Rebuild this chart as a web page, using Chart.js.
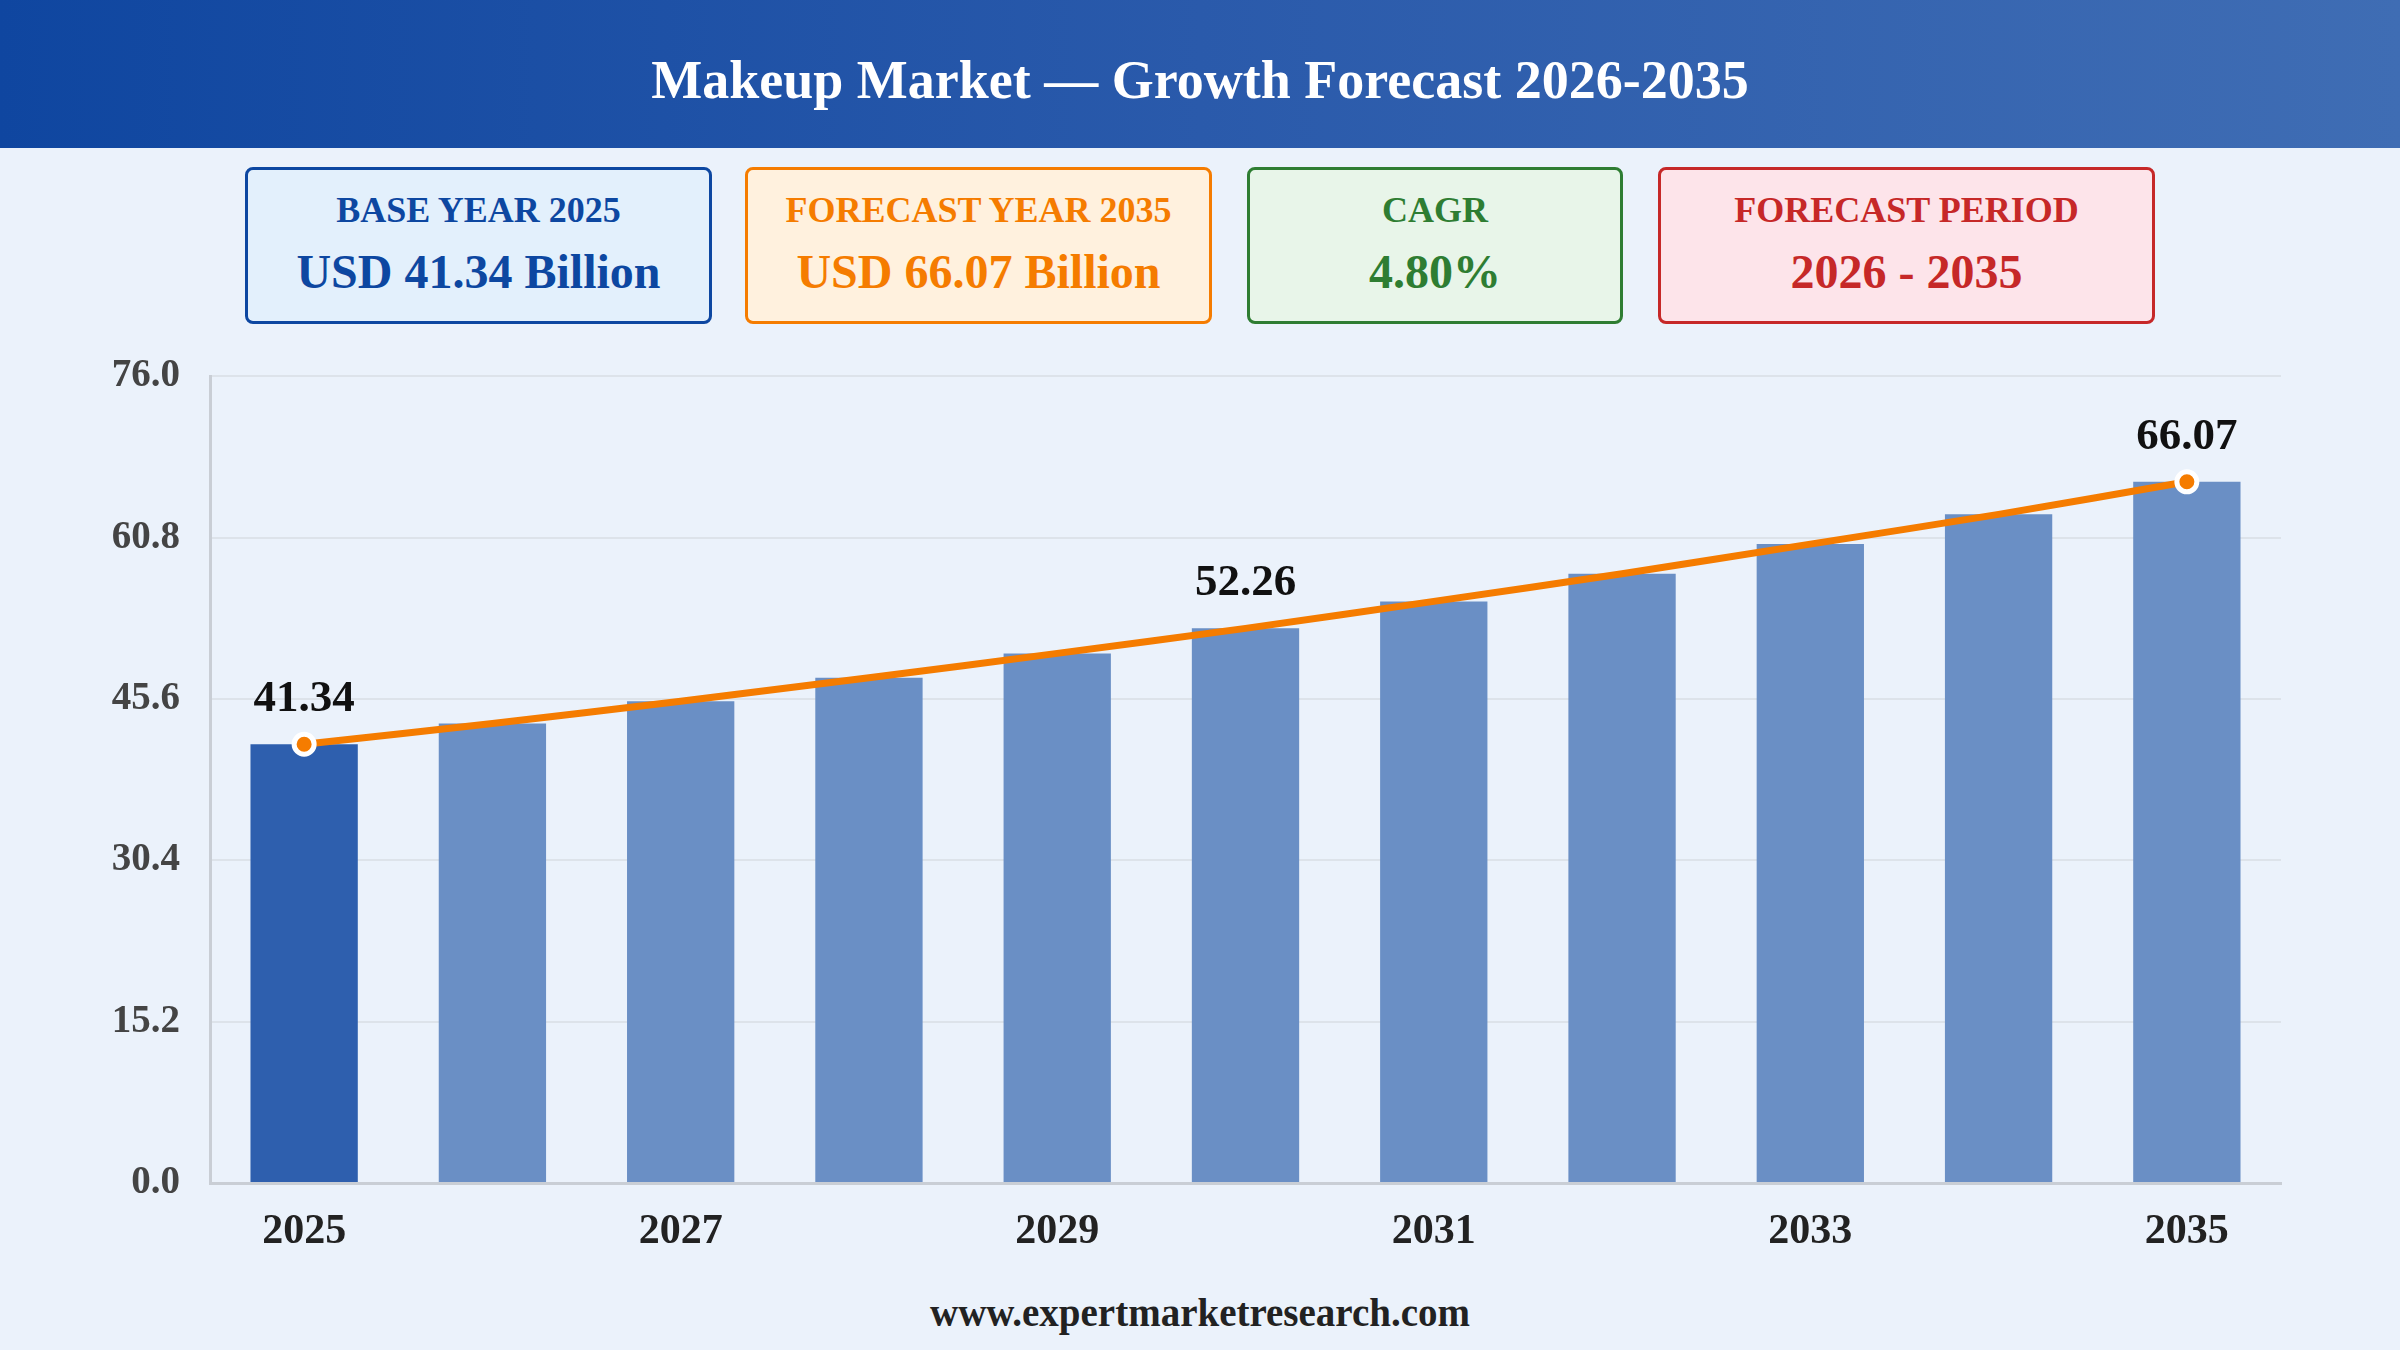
<!DOCTYPE html>
<html>
<head>
<meta charset="utf-8">
<script src="https://cdn.jsdelivr.net/npm/chart.js@4.4.1/dist/chart.umd.min.js"></script>
<style>
  html, body { margin: 0; padding: 0; }
  body {
    width: 2400px;
    height: 1350px;
    background: #ebf2fb;
    position: relative;
    overflow: hidden;
    font-family: "Liberation Serif", "DejaVu Serif", serif;
  }
  .header {
    position: absolute;
    left: 0; top: 0;
    width: 2400px; height: 148px;
    background: linear-gradient(90deg, #0f46a0 0%, #2a5aab 50%, #3f6db4 100%);
  }
  .header h1 {
    margin: 0;
    line-height: 160px;
    text-align: center;
    color: #fff;
    font-size: 54px;
    font-weight: bold;
  }
  .card {
    position: absolute;
    top: 167px;
    height: 151px;
    border: 3px solid;
    border-radius: 8px;
    text-align: center;
    font-weight: bold;
  }
  .card .lbl { font-size: 36px; line-height: 40px; margin-top: 20px; }
  .card .val { font-size: 48px; line-height: 54px; margin-top: 15px; }
  .c1 { left: 245px; width: 461px; border-color: #0d47a1; background: #e3f0fc; color: #0d47a1; }
  .c2 { left: 745px; width: 461px; border-color: #f57c00; background: #fff1de; color: #f57c00; }
  .c3 { left: 1247px; width: 370px; border-color: #2e7d32; background: #e8f5e9; color: #2e7d32; }
  .c4 { left: 1658px; width: 491px; border-color: #c62828; background: #fde4ea; color: #c62828; }
  .chart-box {
    position: absolute;
    left: 0; top: 323px;
    width: 2400px; height: 957px;
  }
  .footer {
    position: absolute;
    left: 0; top: 1290px;
    width: 2400px;
    text-align: center;
    font-size: 39px;
    font-weight: bold;
    color: #222;
  }
</style>
</head>
<body>
<div class="header"><h1>Makeup Market — Growth Forecast 2026-2035</h1></div>

<div class="card c1"><div class="lbl">BASE YEAR 2025</div><div class="val">USD 41.34 Billion</div></div>
<div class="card c2"><div class="lbl">FORECAST YEAR 2035</div><div class="val">USD 66.07 Billion</div></div>
<div class="card c3"><div class="lbl">CAGR</div><div class="val">4.80%</div></div>
<div class="card c4"><div class="lbl">FORECAST PERIOD</div><div class="val">2026 - 2035</div></div>

<div class="chart-box"><canvas id="marketChart"></canvas></div>
<div class="footer">www.expertmarketresearch.com</div>

<script>
const years = ["2025", "2026", "2027", "2028", "2029", "2030", "2031", "2032", "2033", "2034", "2035"];
const marketSize = [41.34, 43.3, 45.4, 47.6, 49.9, 52.26, 54.8, 57.4, 60.2, 63.0, 66.07];
const labelledYears = ["2025", "2030", "2035"];
const yTicks = [0, 15.2, 30.4, 45.6, 60.8, 76.0];

const barColors = years.map((y, i) => (i === 0 ? "#2e5fae" : "#6a8fc5"));
const pointSizes = years.map((y, i) => (i === 0 || i === years.length - 1 ? 10 : 0));

const valueLabels = {
  id: "valueLabels",
  afterDatasetsDraw(chart) {
    const ctx = chart.ctx;
    const meta = chart.getDatasetMeta(1);
    ctx.save();
    ctx.font = "bold 45px 'Liberation Serif', serif";
    ctx.fillStyle = "#111";
    ctx.textAlign = "center";
    ctx.textBaseline = "bottom";
    years.forEach((y, i) => {
      if (!labelledYears.includes(y)) return;
      const pt = meta.data[i];
      ctx.fillText(marketSize[i].toFixed(2), pt.x, pt.y - 22);
    });
    ctx.restore();
  },
};

const ctx = document.getElementById("marketChart").getContext("2d");
new Chart(ctx, {
  data: {
    labels: years,
    datasets: [
      {
        type: "bar",
        label: "Market Size",
        data: marketSize,
        backgroundColor: barColors,
        borderWidth: 0,
        categoryPercentage: 1,
        barPercentage: 0.57,
        order: 2,
      },
      {
        type: "line",
        label: "Trend",
        data: marketSize,
        borderColor: "#f57c00",
        borderWidth: 7,
        tension: 0.2,
        pointRadius: pointSizes,
        pointBackgroundColor: "#f57c00",
        pointBorderColor: "#ffffff",
        pointBorderWidth: 5,
        order: 1,
      },
    ],
  },
  options: {
    responsive: true,
    maintainAspectRatio: false,
    animation: false,
    layout: {
      padding: { left: 60, right: 119, top: 21, bottom: 17 },
    },
    scales: {
      x: {
        grid: { display: false, drawTicks: false },
        border: { display: true, color: "#c9ced5", width: 3 },
        ticks: {
          color: "#222",
          padding: 24,
          maxRotation: 0,
          autoSkip: true,
          callback: function (value, index) {
            return index % 2 === 0 ? years[index] : "";
          },
          font: { family: "'Liberation Serif', serif", size: 42, weight: "bold" },
        },
        afterFit(scale) {
          scale.height = 80;
        },
      },
      y: {
        min: yTicks[0],
        max: yTicks[yTicks.length - 1],
        afterBuildTicks(scale) {
          scale.ticks = yTicks.map((v) => ({ value: v }));
        },
        grid: { color: "#dde3ea", lineWidth: 2, drawTicks: false },
        border: { display: true, color: "#c9ced5", width: 3 },
        ticks: {
          color: "#444",
          padding: 30,
          callback: (v) => Number(v).toFixed(1),
          font: { family: "'Liberation Serif', serif", size: 39, weight: "bold" },
        },
        afterFit(scale) {
          scale.width = 150;
        },
      },
    },
    plugins: {
      legend: { display: false },
      tooltip: { enabled: false },
    },
  },
  plugins: [valueLabels],
});
</script>
</body>
</html>
